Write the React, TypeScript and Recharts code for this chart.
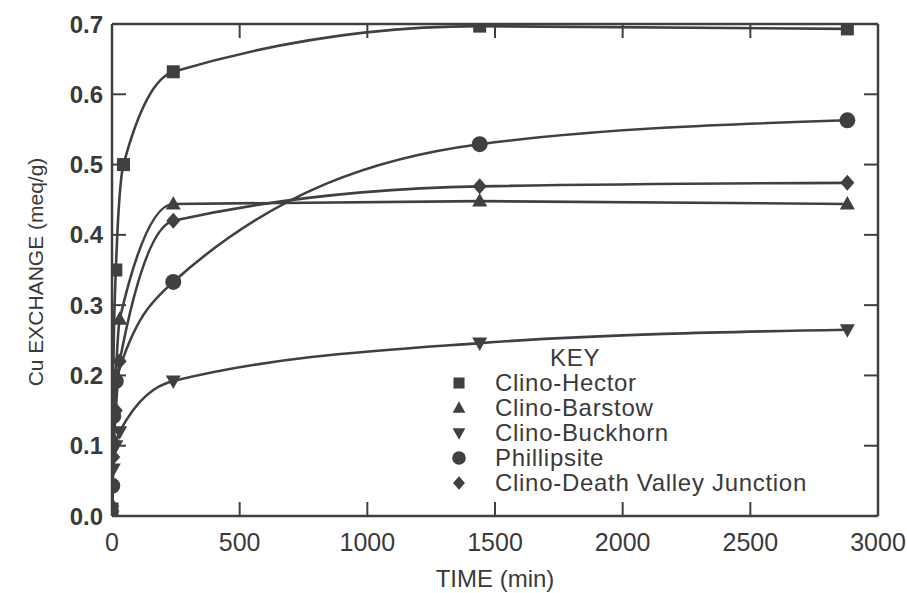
import { LineChart, Line, XAxis, YAxis, Legend, Label } from "recharts";

// times in minutes, Cu exchange in meq/g
const hectorTime = [0, 5, 15, 45, 240, 1440, 2880];
const hectorValue = [0.01, 0.2, 0.35, 0.5, 0.632, 0.697, 0.693];

const barstowTime = [0, 5, 15, 30, 240, 1440, 2880];
const barstowValue = [0.0, 0.11, 0.2, 0.28, 0.444, 0.448, 0.444];

const buckhornTime = [0, 5, 15, 30, 240, 1440, 2880];
const buckhornValue = [0.0, 0.067, 0.1, 0.12, 0.192, 0.246, 0.265];

const phillipsiteTime = [1, 5, 15, 240, 1440, 2880];
const phillipsiteValue = [0.043, 0.142, 0.192, 0.333, 0.529, 0.563];

const dvjTime = [0, 5, 15, 30, 240, 1440, 2880];
const dvjValue = [0.014, 0.084, 0.15, 0.22, 0.42, 0.469, 0.474];

const xTicks = [0, 500, 1000, 1500, 2000, 2500, 3000];
const yTicks = [0, 0.1, 0.2, 0.3, 0.4, 0.5, 0.6, 0.7];

const INK = "#404040";
const TEXT = "#3a3a3a";
const FONT = "'Liberation Sans', Arial, Helvetica, sans-serif";

type Shape = "square" | "up" | "down" | "circle" | "diamond";

const zip = (t: number[], v: number[]) => t.map((x, i) => ({ t: x, v: v[i] }));

const series: { name: string; shape: Shape; data: { t: number; v: number }[] }[] = [
  { name: "Clino-Hector", shape: "square", data: zip(hectorTime, hectorValue) },
  { name: "Clino-Barstow", shape: "up", data: zip(barstowTime, barstowValue) },
  { name: "Clino-Buckhorn", shape: "down", data: zip(buckhornTime, buckhornValue) },
  { name: "Phillipsite", shape: "circle", data: zip(phillipsiteTime, phillipsiteValue) },
  { name: "Clino-Death Valley Junction", shape: "diamond", data: zip(dvjTime, dvjValue) },
];

function Marker({ cx, cy, shape, s = 1 }: { cx: number; cy: number; shape: Shape; s?: number }) {
  if (cx == null || cy == null) return null;
  if (shape === "square")
    return <rect x={cx - 6.5 * s} y={cy - 6.5 * s} width={13 * s} height={13 * s} fill={INK} />;
  if (shape === "up")
    return (
      <polygon
        points={`${cx},${cy - 8 * s} ${cx + 7.5 * s},${cy + 5.5 * s} ${cx - 7.5 * s},${cy + 5.5 * s}`}
        fill={INK}
      />
    );
  if (shape === "down")
    return (
      <polygon
        points={`${cx},${cy + 8 * s} ${cx + 7.5 * s},${cy - 5.5 * s} ${cx - 7.5 * s},${cy - 5.5 * s}`}
        fill={INK}
      />
    );
  if (shape === "circle") return <circle cx={cx} cy={cy} r={8 * s} fill={INK} />;
  return (
    <polygon
      points={`${cx},${cy - 8 * s} ${cx + 7 * s},${cy} ${cx},${cy + 8 * s} ${cx - 7 * s},${cy}`}
      fill={INK}
    />
  );
}

function KeyBox() {
  return (
    <div style={{ fontFamily: FONT, fontSize: 24, color: TEXT, lineHeight: "25px", letterSpacing: 0.7 }}>
      <div style={{ paddingLeft: 105 }}>KEY</div>
      {series.map((s) => (
        <div key={s.name} style={{ display: "flex", alignItems: "center", height: 25 }}>
          <svg width={28} height={20} style={{ marginRight: 22 }}>
            <Marker cx={14} cy={10} shape={s.shape} s={0.85} />
          </svg>
          <span>{s.name}</span>
        </div>
      ))}
    </div>
  );
}

const axisLine = { stroke: INK, strokeWidth: 2.5 };
const tickLine = { stroke: INK, strokeWidth: 2 };
const blank = () => "";

export default function App() {
  return (
    <div style={{ position: "absolute", left: 0, top: 0, width: 907, height: 593, background: "#fff" }}>
      <LineChart width={907} height={593} margin={{ top: 24, right: 28, bottom: 3, left: 0 }}>
        <XAxis
          xAxisId="b"
          dataKey="t"
          type="number"
          domain={[0, 3000]}
          ticks={xTicks}
          allowDataOverflow
          height={74}
          tickSize={-14}
          tickMargin={31}
          axisLine={axisLine}
          tickLine={tickLine}
          tick={{ fill: TEXT, fontSize: 25, fontFamily: FONT }}
        >
          <Label
            value="TIME (min)"
            position="insideBottom"
            offset={3}
            style={{ fill: TEXT, fontSize: 24, fontFamily: FONT }}
          />
        </XAxis>
        <XAxis
          xAxisId="t"
          orientation="top"
          dataKey="t"
          type="number"
          domain={[0, 3000]}
          ticks={xTicks}
          interval={0}
          allowDataOverflow
          height={1}
          mirror
          tickSize={14}
          tickFormatter={blank}
          axisLine={axisLine}
          tickLine={tickLine}
        />
        <YAxis
          yAxisId="l"
          type="number"
          domain={[0, 0.7]}
          ticks={yTicks}
          allowDataOverflow
          width={112}
          tickSize={-14}
          tickMargin={23}
          tickFormatter={(v: number) => v.toFixed(1)}
          axisLine={axisLine}
          tickLine={tickLine}
          tick={{ fill: TEXT, fontSize: 24, fontWeight: 700, fontFamily: FONT }}
        >
          <Label
            content={() => (
              <text
                x={35}
                y={272}
                transform="rotate(-90 35 272)"
                textAnchor="middle"
                dominantBaseline="central"
                fill={TEXT}
                fontSize={21}
                fontFamily={FONT}
              >
                Cu EXCHANGE (meq/g)
              </text>
            )}
          />
        </YAxis>
        <YAxis
          yAxisId="r"
          orientation="right"
          type="number"
          domain={[0, 0.7]}
          ticks={yTicks}
          allowDataOverflow
          width={1}
          tickSize={-14}
          tickFormatter={blank}
          axisLine={axisLine}
          tickLine={tickLine}
        />
        {series.map((s, i) => (
          <Line
            key={s.name}
            xAxisId={i === 0 ? "t" : "b"}
            yAxisId={i === 0 ? "r" : "l"}
            data={s.data}
            dataKey="v"
            name={s.name}
            type="monotone"
            stroke={INK}
            strokeWidth={2.6}
            isAnimationActive={false}
            dot={(p: any) => <Marker key={`${s.name}-${p.index}`} cx={p.cx} cy={p.cy} shape={s.shape} />}
            activeDot={false}
          />
        ))}
        <Legend
          layout="vertical"
          align="center"
          verticalAlign="middle"
          wrapperStyle={{ left: 445, top: 345, width: 420 }}
          content={() => <KeyBox />}
        />
      </LineChart>
    </div>
  );
}
